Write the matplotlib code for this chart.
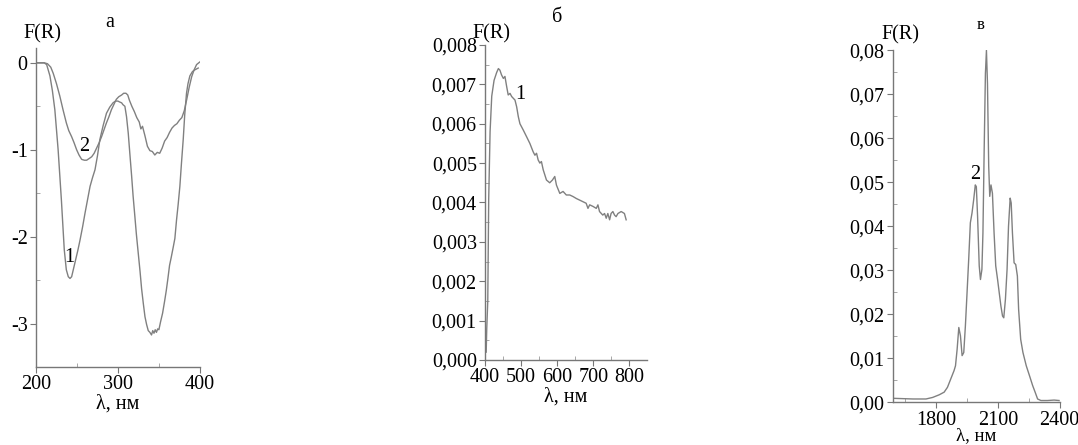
import matplotlib.pyplot as plt
import numpy as np
from matplotlib.ticker import MultipleLocator, FuncFormatter

plt.rcParams['font.family'] = ['Liberation Serif', 'DejaVu Serif']
plt.rcParams['axes.unicode_minus'] = False

# --- панель а: УФ спектры (кривые 1 и 2)
a1_x = [200, 205, 210, 213, 217, 220, 223, 227, 231, 234.5, 237, 239.4, 241.5, 243.5,
        247.5, 251, 253.7, 257, 259.8, 263, 266, 269, 272, 275, 278, 282, 286, 290,
        294, 297, 300, 302, 304.5, 306, 308.5, 310.5, 312.6, 314.5, 316.7, 318.5, 320.7,
        322.5, 324.8, 327, 328.9, 331, 333, 335, 337, 339, 341, 342.5, 344, 345.5, 347,
        348.5, 350, 352, 354.5, 357, 359, 361, 363, 365, 367.5, 369.5, 371.5, 373.5,
        375.6, 377.5, 379.7, 381.5, 383.7, 385.5, 387.8, 391, 394, 396, 398]
a1_y = [0.0, 0.0, 0.0, -0.02, -0.15, -0.32, -0.54, -1.0, -1.58, -2.15, -2.38, -2.46,
        -2.48, -2.46, -2.3, -2.16, -2.04, -1.88, -1.73, -1.57, -1.42, -1.32, -1.23,
        -1.07, -0.88, -0.72, -0.58, -0.51, -0.46, -0.44, -0.44, -0.45, -0.46, -0.48,
        -0.5, -0.62, -0.81, -1.04, -1.3, -1.53, -1.77, -1.97, -2.19, -2.4, -2.6, -2.77,
        -2.92, -3.01, -3.08, -3.1, -3.13, -3.08, -3.11, -3.07, -3.1, -3.06, -3.07, -2.98,
        -2.88, -2.74, -2.62, -2.48, -2.33, -2.24, -2.12, -2.02, -1.81, -1.63, -1.42,
        -1.16, -0.88, -0.6, -0.35, -0.24, -0.15, -0.1, -0.08, -0.07, -0.06]
a2_x = [200, 205, 210, 214, 218, 221, 225, 229, 233, 237, 240, 243.5, 246.5, 249.6,
        252.5, 255.7, 259, 261.8, 265, 268, 271, 274, 277, 280, 283, 286, 289, 292, 295,
        298, 301, 304.5, 307, 309.8, 312, 314, 317, 320, 323, 326, 328, 330, 333, 336,
        339, 342, 345, 348, 351, 354, 357, 360, 363, 366, 369, 372, 375, 378, 381, 384,
        387, 390, 393, 396, 400]
a2_y = [0.0, 0.0, 0.0, -0.01, -0.05, -0.12, -0.24, -0.38, -0.54, -0.69, -0.78, -0.85,
        -0.92, -1.0, -1.06, -1.11, -1.12, -1.12, -1.1, -1.08, -1.04, -0.98, -0.92, -0.85,
        -0.77, -0.69, -0.62, -0.54, -0.48, -0.42, -0.39, -0.37, -0.35, -0.35, -0.37,
        -0.43, -0.5, -0.56, -0.63, -0.68, -0.76, -0.73, -0.84, -0.96, -1.01, -1.02, -1.06,
        -1.03, -1.04, -0.98, -0.9, -0.86, -0.8, -0.75, -0.72, -0.7, -0.66, -0.63, -0.55,
        -0.42, -0.28, -0.16, -0.08, -0.02, 0.01]

# --- панель б: видимая область (кривая 1)
b_x = [403, 404.6, 407.4, 410, 413.8, 418.4, 424.8, 432, 436.8, 441, 445.5, 450.6, 455,
       459.8, 464, 469, 473.6, 482.8, 487.4, 492, 496.5, 505.7, 514.9, 524, 533, 538,
       542.5, 547, 551.7, 556, 561, 570, 579, 586.6, 593, 597.7, 607, 616, 625, 634.5,
       643.7, 652.9, 662, 671, 680, 685, 689.7, 699, 708, 712.6, 717, 726, 731, 735.6,
       740, 745, 749, 754, 758.6, 763, 768, 777, 786, 790.8]
b_y = [0.0002, 0.0008, 0.0015, 0.0041, 0.0058, 0.0067, 0.0071, 0.0073, 0.0074, 0.00736,
       0.00724, 0.00715, 0.0072, 0.00694, 0.00673, 0.00677, 0.00669, 0.0066, 0.00643,
       0.00618, 0.006, 0.00584, 0.00567, 0.0055, 0.00529, 0.0052, 0.00525, 0.00508,
       0.005, 0.00504, 0.00483, 0.00457, 0.0045, 0.00457, 0.00466, 0.00444, 0.00423,
       0.00428, 0.00419, 0.00419, 0.00415, 0.0041, 0.00406, 0.00402, 0.00398, 0.00385,
       0.00394, 0.0039, 0.00385, 0.00394, 0.00377, 0.00368, 0.00372, 0.0036, 0.00372,
       0.00356, 0.00372, 0.00377, 0.00368, 0.00364, 0.00372, 0.00377, 0.00372, 0.00356]

# --- панель в: ИК область (кривая 2)
c_x = [1593, 1689, 1752, 1784, 1816, 1840, 1856, 1872, 1888, 1895, 1903, 1911, 1919,
       1927, 1935, 1943, 1951, 1959, 1967, 1975, 1983, 1991, 1996, 2002, 2010, 2016,
       2023, 2028, 2034, 2040, 2045, 2050, 2056, 2061, 2067, 2074, 2082, 2090, 2099,
       2107, 2115, 2123, 2129, 2137, 2145, 2152, 2160, 2165, 2171, 2179, 2187, 2195,
       2201, 2211, 2222, 2238, 2254, 2269, 2281, 2293, 2309, 2341, 2373, 2397]
c_y = [0.0009, 0.00075, 0.00075, 0.0011, 0.0017, 0.0023, 0.0034, 0.0053, 0.0072,
       0.0083, 0.0121, 0.017, 0.0151, 0.0106, 0.0113, 0.0174, 0.0249, 0.0325, 0.0408,
       0.043, 0.046, 0.0494, 0.049, 0.0423, 0.031, 0.0279, 0.0302, 0.0385, 0.0574,
       0.0747, 0.08, 0.0725, 0.0536, 0.0468, 0.0494, 0.0475, 0.0385, 0.031, 0.0279,
       0.0249, 0.0219, 0.0196, 0.0192, 0.0234, 0.0302, 0.04, 0.0464, 0.0453, 0.0385,
       0.0317, 0.0313, 0.0287, 0.0211, 0.0143, 0.0113, 0.0083, 0.006, 0.0038, 0.0023,
       0.00075, 0.0004, 0.0004, 0.0005, 0.0004]

line_c = '#808080'
fs = 14.5


def comma(nd):
    return FuncFormatter(lambda v, p: f'{v:.{nd}f}'.replace('.', ','))


def style(ax):
    for s in ['top', 'right']:
        ax.spines[s].set_visible(False)
    for s in ['left', 'bottom']:
        ax.spines[s].set_color('#777777')
        ax.spines[s].set_linewidth(1.0)
    ax.tick_params(which='major', direction='out', length=4, width=0.8, color='#777777',
                   labelsize=fs, pad=2)
    ax.tick_params(which='minor', direction='in', length=3, width=0.6, color='#999999')


fig = plt.figure(figsize=(10.78, 4.45), dpi=100)

# а
ax1 = fig.add_axes([0.0334, 0.175, 0.152, 0.717])
ax1.plot(a1_x, a1_y, color=line_c, lw=1.0)
ax1.plot(a2_x, a2_y, color=line_c, lw=1.0)
ax1.set_xlim(200, 400)
ax1.set_ylim(-3.5, 0.17)
ax1.xaxis.set_major_locator(MultipleLocator(100))
ax1.xaxis.set_minor_locator(MultipleLocator(50))
ax1.yaxis.set_major_locator(MultipleLocator(1))
ax1.yaxis.set_minor_locator(MultipleLocator(0.5))
ax1.yaxis.set_major_formatter(FuncFormatter(lambda v, p: f'{v:.0f}'))
style(ax1)
ax1.set_xlabel('λ, нм', fontsize=fs, labelpad=0)
ax1.text(0.04, 1.045, 'F(R)', transform=ax1.transAxes, fontsize=fs, ha='center', va='center')
ax1.text(0.45, 1.08, 'а', transform=ax1.transAxes, fontsize=fs, ha='center', va='center')
ax1.text(241, -2.24, '1', fontsize=fs, ha='center', va='center')
ax1.text(258.5, -0.96, '2', fontsize=fs, ha='center', va='center')

# б
ax2 = fig.add_axes([0.450, 0.191, 0.150, 0.708])
ax2.plot(b_x, b_y, color=line_c, lw=1.0)
ax2.set_xlim(400, 848)
ax2.set_ylim(0, 0.008)
ax2.xaxis.set_major_locator(MultipleLocator(100))
ax2.xaxis.set_minor_locator(MultipleLocator(50))
ax2.yaxis.set_major_locator(MultipleLocator(0.001))
ax2.yaxis.set_minor_locator(MultipleLocator(0.0005))
ax2.yaxis.set_major_formatter(comma(3))
style(ax2)
ax2.set_xlabel('λ, нм', fontsize=fs, labelpad=0)
ax2.text(0.04, 1.035, 'F(R)', transform=ax2.transAxes, fontsize=fs, ha='center', va='center')
ax2.text(0.444, 1.086, 'б', transform=ax2.transAxes, fontsize=fs, ha='center', va='center')
ax2.text(498, 0.00673, '1', fontsize=fs, ha='center', va='center')

# в
ax3 = fig.add_axes([0.828, 0.096, 0.155, 0.791])
ax3.plot(c_x, c_y, color=line_c, lw=1.0)
ax3.set_xlim(1590, 2400)
ax3.set_ylim(0, 0.08)
ax3.xaxis.set_major_locator(MultipleLocator(300))
ax3.xaxis.set_minor_locator(MultipleLocator(150))
ax3.yaxis.set_major_locator(MultipleLocator(0.01))
ax3.yaxis.set_minor_locator(MultipleLocator(0.005))
ax3.yaxis.set_major_formatter(comma(2))
style(ax3)
ax3.set_xlabel('λ, нм', fontsize=13.5, labelpad=-2)
ax3.text(0.045, 1.045, 'F(R)', transform=ax3.transAxes, fontsize=fs, ha='center', va='center')
ax3.text(0.527, 1.071, 'в', transform=ax3.transAxes, fontsize=12, ha='center', va='center')
ax3.text(1992, 0.0517, '2', fontsize=fs, ha='center', va='center')

fig.savefig('out.png', dpi=100)
